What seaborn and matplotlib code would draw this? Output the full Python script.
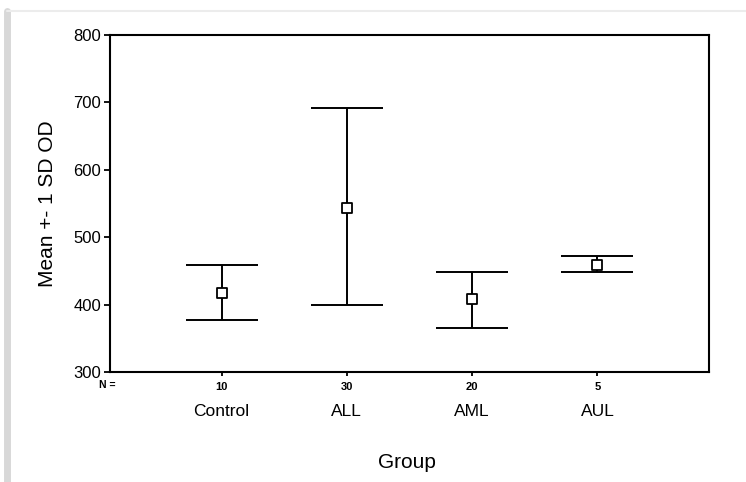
import pandas as pd
import seaborn as sns
import matplotlib.pyplot as plt
from matplotlib.lines import Line2D

groups = ["Control", "ALL", "AML", "AUL"]
n_counts = [10, 30, 20, 5]
means = [417, 544, 408, 459]
lower = [377, 399, 366, 448]
upper = [459, 692, 448, 472]

df = pd.DataFrame({"pos": [1, 2, 3, 4], "Group": groups, "mean": means,
                   "lo": lower, "hi": upper, "N": n_counts})

sns.set_style("white")
plt.rcParams["font.family"] = ["Liberation Sans", "DejaVu Sans"]
plt.rcParams["text.color"] = "black"
plt.rcParams["axes.labelcolor"] = "black"
plt.rcParams["xtick.color"] = "black"
plt.rcParams["ytick.color"] = "black"

W, H = 746, 482
fig = plt.figure(figsize=(W / 100, H / 100), dpi=100)
ax = fig.add_axes([110 / W, 1 - 372 / H, 599 / W, 337 / H])

# error bars (mean +- 1 SD)
ax.errorbar(df["pos"], df["mean"],
            yerr=[df["mean"] - df["lo"], df["hi"] - df["mean"]],
            fmt="none", ecolor="black", elinewidth=1.4, capsize=26, capthick=1.4)
sns.scatterplot(data=df, x="pos", y="mean", marker="s", s=55,
                facecolor="white", edgecolor="black", linewidth=1.3, ax=ax, zorder=5)

ax.set_xlim(0.11, 4.89)
ax.set_ylim(300, 800)
ax.set_yticks([300, 400, 500, 600, 700, 800])
ax.set_xticks(df["pos"])
ax.set_xticklabels([str(n) for n in n_counts], fontsize=8, fontweight="bold")
ax.tick_params(axis="y", labelsize=12, length=4, width=1.3, direction="out", left=True, pad=2.5)
ax.tick_params(axis="x", length=3, width=1.3, direction="out", bottom=True, pad=4)
for sp in ax.spines.values():
    sp.set_color("black")
    sp.set_linewidth(1.5)
ax.set_xlabel("")
ax.set_ylabel("Mean +- 1 SD OD", fontsize=15, labelpad=12)

tr = ax.get_xaxis_transform()
ax.text(0.02, -13 / 337, "N =", transform=tr, fontsize=7.5, fontweight="bold", ha="left", va="center")
for p, g in zip(df["pos"], groups):
    ax.text(p, -39 / 337, g, transform=tr, fontsize=12.5, ha="center", va="center")
fig.text(407 / W, 1 - 462 / H, "Group", fontsize=15, ha="center", va="center")

# screenshot frame
fig.add_artist(Line2D([7 / W, 7 / W], [0, 1 - 11 / H], transform=fig.transFigure,
                      color="#d8d8d8", linewidth=5, zorder=0))
fig.add_artist(Line2D([7 / W, 1], [1 - 11 / H, 1 - 11 / H], transform=fig.transFigure,
                      color="#ececec", linewidth=1.5, zorder=0))

fig.savefig("out.png", dpi=100)
